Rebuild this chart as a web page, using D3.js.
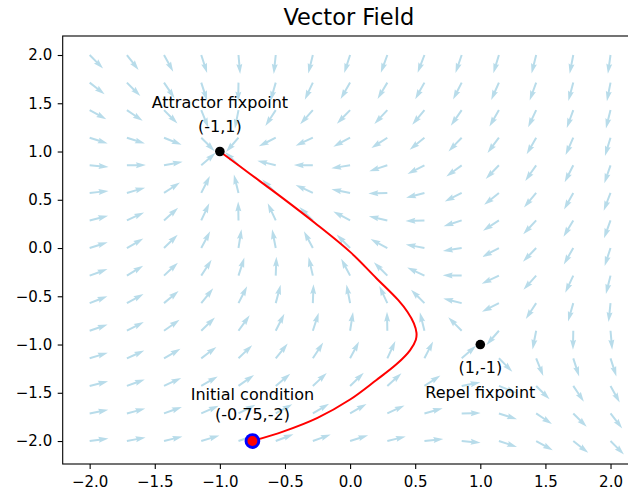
<!DOCTYPE html>
<html>
<head>
<meta charset="utf-8">
<script src="https://cdn.jsdelivr.net/npm/d3@7"></script>
<style>
  body { margin: 0; background: #ffffff; }
  text { font-family: "DejaVu Sans", sans-serif; fill: #000; }
</style>
</head>
<body>
<div id="chart"></div>
<script>
// grid of arrow tails (data units)
const xGrid = [-2, -1.714, -1.429, -1.143, -0.857, -0.571, -0.286, 0, 0.286, 0.571, 0.857, 1.143, 1.429, 1.714, 2];
const yGrid = [2, 1.714, 1.429, 1.143, 0.857, 0.571, 0.286, 0, -0.286, -0.571, -0.857, -1.143, -1.429, -1.714, -2];

// arrow direction in degrees (counter-clockwise from +x), one row per yGrid value
const arrowAngle = [
  [-45, -52, -61, -72, -85, -96, -104, -108, -110, -111, -109, -107, -104, -101, -98],
  [-38, -45, -56, -72, -91, -106, -115, -120, -121, -119, -117, -114, -110, -105, -101],
  [-29, -34, -45, -68, -101, -123, -132, -134, -133, -130, -125, -120, -115, -110, -104],
  [-18, -18, -22, -45, -131, -153, -155, -152, -147, -141, -134, -127, -120, -114, -107],
  [-5, 1, 11, 41, 135, 166, 179, -171, -162, -153, -144, -134, -125, -117, -109],
  [6, 16, 33, 63, 104, 135, 155, 169, -178, -165, -153, -141, -130, -119, -111],
  [14, 25, 42, 65, 91, 115, 135, 152, 167, -178, -162, -147, -133, -121, -110],
  [18, 30, 44, 62, 81, 101, 118, 135, 152, 169, -171, -152, -134, -120, -108],
  [20, 31, 43, 57, 72, 88, 103, 118, 135, 155, 179, -155, -132, -115, -104],
  [21, 29, 40, 51, 63, 75, 88, 101, 115, 135, 166, -153, -123, -106, -96],
  [19, 27, 35, 44, 54, 63, 72, 81, 91, 104, 135, -131, -101, -91, -85],
  [17, 24, 30, 37, 44, 51, 57, 62, 65, 63, 41, -45, -68, -72, -72],
  [14, 20, 25, 30, 35, 40, 43, 44, 42, 33, 11, -22, -45, -56, -61],
  [11, 15, 20, 24, 27, 29, 31, 30, 25, 16, 1, -18, -34, -45, -52],
  [8, 11, 14, 17, 19, 21, 20, 18, 14, 6, -5, -18, -29, -38, -45]
];

// trajectory from the initial condition to the attractor
const pathX = [-0.75, -0.51, -0.25, 0.00, 0.20, 0.36, 0.46, 0.505, 0.51, 0.49, 0.44, 0.37, 0.20, 0.00, -0.27, -0.52, -0.77, -1.0];
const pathY = [-2.00, -1.90, -1.76, -1.57, -1.37, -1.20, -1.06, -0.95, -0.88, -0.78, -0.66, -0.54, -0.31, -0.04, 0.26, 0.52, 0.77, 1.0];

// fixpoints and start point
const attractor = [-1, 1];
const repel = [1, -1];
const initial = [-0.75, -2];

const xTicks = [-2, -1.5, -1, -0.5, 0, 0.5, 1, 1.5, 2];
const yTicks = [-2, -1.5, -1, -0.5, 0, 0.5, 1, 1.5, 2];

const width = 628;
const height = 490;
const plot = { left: 62.7, right: 635, top: 36, bottom: 464 };

const svg = d3.select("#chart")
  .append("svg")
  .attr("width", width)
  .attr("height", height);

const xScale = d3.scaleLinear()
  .domain([-2.207, 2.188])
  .range([plot.left, plot.right]);

const yScale = d3.scaleLinear()
  .domain([-2.238, 2.197])
  .range([plot.bottom, plot.top]);

// quiver arrows, tail at grid point, fixed screen length
const L = 19, w = 2;
const arrowShape = `M0,${-w / 2} L${L - 4.5 * w},${-w / 2} L${L - 5 * w},${-1.5 * w} L${L},0 L${L - 5 * w},${1.5 * w} L${L - 4.5 * w},${w / 2} L0,${w / 2} Z`;

const arrows = [];
yGrid.forEach((y, r) => {
  xGrid.forEach((x, c) => {
    arrows.push({ x: x, y: y, angle: arrowAngle[r][c] });
  });
});

svg.append("g")
  .selectAll("path")
  .data(arrows)
  .join("path")
  .attr("d", arrowShape)
  .attr("fill", "#b8dcea")
  .attr("transform", d => `translate(${xScale(d.x)},${yScale(d.y)}) rotate(${-d.angle})`);

// trajectory
const points = pathX.map((x, i) => [x, pathY[i]]);
svg.append("path")
  .datum(points)
  .attr("fill", "none")
  .attr("stroke", "#ff0000")
  .attr("stroke-width", 2)
  .attr("d", d3.line()
    .x(d => xScale(d[0]))
    .y(d => yScale(d[1]))
    .curve(d3.curveCatmullRom));

// fixpoints
svg.selectAll(".fix")
  .data([attractor, repel])
  .join("circle")
  .attr("class", "fix")
  .attr("cx", d => xScale(d[0]))
  .attr("cy", d => yScale(d[1]))
  .attr("r", 4.8)
  .attr("fill", "#000");

svg.append("circle")
  .attr("cx", xScale(initial[0]))
  .attr("cy", yScale(initial[1]))
  .attr("r", 6.4)
  .attr("fill", "#ff0000")
  .attr("stroke", "#0000ff")
  .attr("stroke-width", 2.9);

// annotations
const ann = svg.append("g").attr("font-size", "16px").attr("text-anchor", "middle");
ann.append("text").attr("x", xScale(attractor[0])).attr("y", 108).text("Attractor fixpoint");
ann.append("text").attr("x", xScale(attractor[0])).attr("y", 132).text("(-1,1)");
ann.append("text").attr("x", xScale(initial[0])).attr("y", 400).text("Initial condition");
ann.append("text").attr("x", xScale(initial[0])).attr("y", 420).text("(-0.75,-2)");
ann.append("text").attr("x", xScale(repel[0])).attr("y", 373).text("(1,-1)");
ann.append("text").attr("x", xScale(repel[0])).attr("y", 398).text("Repel fixpoint");

// axes
const fmt = d3.format(".1f");
const xAxis = svg.append("g")
  .attr("transform", `translate(0,${plot.bottom})`)
  .call(d3.axisBottom(xScale).tickValues(xTicks).tickFormat(fmt).tickSize(5).tickPadding(7).tickSizeOuter(0));
const yAxis = svg.append("g")
  .attr("transform", `translate(${plot.left},0)`)
  .call(d3.axisLeft(yScale).tickValues(yTicks).tickFormat(fmt).tickSize(5).tickPadding(5.5).tickSizeOuter(0));

[xAxis, yAxis].forEach(g => {
  g.select(".domain").remove();
  g.selectAll(".tick line").attr("stroke", "#000").attr("stroke-width", 1.1);
  g.selectAll(".tick text").attr("font-size", "15px").attr("font-family", "DejaVu Sans, sans-serif").attr("fill", "#000");
});

// frame
svg.append("rect")
  .attr("x", plot.left)
  .attr("y", plot.top)
  .attr("width", plot.right - plot.left)
  .attr("height", plot.bottom - plot.top)
  .attr("fill", "none")
  .attr("stroke", "#000")
  .attr("stroke-width", 1.1);

// title
svg.append("text")
  .attr("x", (plot.left + plot.right) / 2)
  .attr("y", 25)
  .attr("text-anchor", "middle")
  .attr("font-size", "22.5px")
  .text("Vector Field");
</script>
</body>
</html>
